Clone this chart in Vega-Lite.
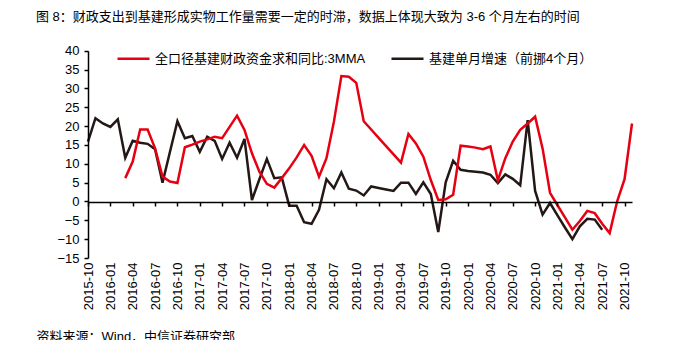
{
  "$schema": "https://vega.github.io/schema/vega-lite/v6.json",
  "width": 643,
  "height": 294,
  "autosize": {"type": "none"},
  "padding": {"left": 33, "top": 29, "right": 0, "bottom": 17},
  "background": "white",
  "config": {"view": {"stroke": null}, "font": "Liberation Sans, Noto Sans CJK SC"},
  "title": {
    "text": "图 8：财政支出到基建形成实物工作量需要一定的时滞，数据上体现大致为 3-6 个月左右的时间",
    "anchor": "start", "frame": "group", "orient": "top", "baseline": "bottom",
    "offset": 2, "dx": 3, "dy": 10, "fontSize": 13, "fontWeight": "normal", "color": "#000",
    "font": "Liberation Sans, Noto Sans CJK SC"
  },
  "data": {
    "values": [
      {"month": "2015-10", "series": "基建单月增速（前挪4个月）", "value": 15.9},
      {"month": "2015-11", "series": "基建单月增速（前挪4个月）", "value": 22.1},
      {"month": "2015-12", "series": "基建单月增速（前挪4个月）", "value": 20.7},
      {"month": "2016-01", "series": "基建单月增速（前挪4个月）", "value": 19.8},
      {"month": "2016-02", "series": "基建单月增速（前挪4个月）", "value": 21.8},
      {"month": "2016-03", "series": "基建单月增速（前挪4个月）", "value": 11.6},
      {"month": "2016-04", "series": "基建单月增速（前挪4个月）", "value": 16.1},
      {"month": "2016-05", "series": "基建单月增速（前挪4个月）", "value": 15.6},
      {"month": "2016-06", "series": "基建单月增速（前挪4个月）", "value": 15.3},
      {"month": "2016-07", "series": "基建单月增速（前挪4个月）", "value": 13.9},
      {"month": "2016-08", "series": "基建单月增速（前挪4个月）", "value": 5.0},
      {"month": "2016-09", "series": "基建单月增速（前挪4个月）", "value": 13.2},
      {"month": "2016-10", "series": "基建单月增速（前挪4个月）", "value": 21.3},
      {"month": "2016-11", "series": "基建单月增速（前挪4个月）", "value": 16.8},
      {"month": "2016-12", "series": "基建单月增速（前挪4个月）", "value": 17.4},
      {"month": "2017-01", "series": "基建单月增速（前挪4个月）", "value": 13.2},
      {"month": "2017-02", "series": "基建单月增速（前挪4个月）", "value": 17.2},
      {"month": "2017-03", "series": "基建单月增速（前挪4个月）", "value": 16.1},
      {"month": "2017-04", "series": "基建单月增速（前挪4个月）", "value": 11.3},
      {"month": "2017-05", "series": "基建单月增速（前挪4个月）", "value": 15.6},
      {"month": "2017-06", "series": "基建单月增速（前挪4个月）", "value": 11.6},
      {"month": "2017-07", "series": "基建单月增速（前挪4个月）", "value": 16.6},
      {"month": "2017-08", "series": "基建单月增速（前挪4个月）", "value": 0.4},
      {"month": "2017-09", "series": "基建单月增速（前挪4个月）", "value": 5.9},
      {"month": "2017-10", "series": "基建单月增速（前挪4个月）", "value": 11.3},
      {"month": "2017-11", "series": "基建单月增速（前挪4个月）", "value": 6.2},
      {"month": "2017-12", "series": "基建单月增速（前挪4个月）", "value": 6.4},
      {"month": "2018-01", "series": "基建单月增速（前挪4个月）", "value": -1.1},
      {"month": "2018-02", "series": "基建单月增速（前挪4个月）", "value": -1.1},
      {"month": "2018-03", "series": "基建单月增速（前挪4个月）", "value": -5.5},
      {"month": "2018-04", "series": "基建单月增速（前挪4个月）", "value": -5.9},
      {"month": "2018-05", "series": "基建单月增速（前挪4个月）", "value": -2.2},
      {"month": "2018-06", "series": "基建单月增速（前挪4个月）", "value": 5.9},
      {"month": "2018-07", "series": "基建单月增速（前挪4个月）", "value": 3.5},
      {"month": "2018-08", "series": "基建单月增速（前挪4个月）", "value": 7.7},
      {"month": "2018-09", "series": "基建单月增速（前挪4个月）", "value": 3.4},
      {"month": "2018-10", "series": "基建单月增速（前挪4个月）", "value": 2.9},
      {"month": "2018-11", "series": "基建单月增速（前挪4个月）", "value": 1.6},
      {"month": "2018-12", "series": "基建单月增速（前挪4个月）", "value": 4.0},
      {"month": "2019-01", "series": "基建单月增速（前挪4个月）", "value": 3.6},
      {"month": "2019-02", "series": "基建单月增速（前挪4个月）", "value": 3.2},
      {"month": "2019-03", "series": "基建单月增速（前挪4个月）", "value": 2.8},
      {"month": "2019-04", "series": "基建单月增速（前挪4个月）", "value": 5.0},
      {"month": "2019-05", "series": "基建单月增速（前挪4个月）", "value": 5.0},
      {"month": "2019-06", "series": "基建单月增速（前挪4个月）", "value": 2.0},
      {"month": "2019-07", "series": "基建单月增速（前挪4个月）", "value": 5.1},
      {"month": "2019-08", "series": "基建单月增速（前挪4个月）", "value": 2.0},
      {"month": "2019-09", "series": "基建单月增速（前挪4个月）", "value": -8.1},
      {"month": "2019-10", "series": "基建单月增速（前挪4个月）", "value": 5.1},
      {"month": "2019-11", "series": "基建单月增速（前挪4个月）", "value": 10.8},
      {"month": "2019-12", "series": "基建单月增速（前挪4个月）", "value": 8.4},
      {"month": "2020-01", "series": "基建单月增速（前挪4个月）", "value": 8.1},
      {"month": "2020-02", "series": "基建单月增速（前挪4个月）", "value": 7.9},
      {"month": "2020-03", "series": "基建单月增速（前挪4个月）", "value": 7.7},
      {"month": "2020-04", "series": "基建单月增速（前挪4个月）", "value": 7.1},
      {"month": "2020-05", "series": "基建单月增速（前挪4个月）", "value": 4.9},
      {"month": "2020-06", "series": "基建单月增速（前挪4个月）", "value": 7.2},
      {"month": "2020-07", "series": "基建单月增速（前挪4个月）", "value": 6.0},
      {"month": "2020-08", "series": "基建单月增速（前挪4个月）", "value": 4.3},
      {"month": "2020-09", "series": "基建单月增速（前挪4个月）", "value": 21.6},
      {"month": "2020-10", "series": "基建单月增速（前挪4个月）", "value": 2.8},
      {"month": "2020-11", "series": "基建单月增速（前挪4个月）", "value": -3.5},
      {"month": "2020-12", "series": "基建单月增速（前挪4个月）", "value": -0.4},
      {"month": "2021-01", "series": "基建单月增速（前挪4个月）", "value": -3.7},
      {"month": "2021-02", "series": "基建单月增速（前挪4个月）", "value": -6.9},
      {"month": "2021-03", "series": "基建单月增速（前挪4个月）", "value": -10.0},
      {"month": "2021-04", "series": "基建单月增速（前挪4个月）", "value": -6.6},
      {"month": "2021-05", "series": "基建单月增速（前挪4个月）", "value": -4.6},
      {"month": "2021-06", "series": "基建单月增速（前挪4个月）", "value": -4.8},
      {"month": "2021-07", "series": "基建单月增速（前挪4个月）", "value": -7.5},
      {"month": "2016-03", "series": "全口径基建财政资金求和同比:3MMA", "value": 6.2},
      {"month": "2016-04", "series": "全口径基建财政资金求和同比:3MMA", "value": 10.6},
      {"month": "2016-05", "series": "全口径基建财政资金求和同比:3MMA", "value": 19.1},
      {"month": "2016-06", "series": "全口径基建财政资金求和同比:3MMA", "value": 19.1},
      {"month": "2016-07", "series": "全口径基建财政资金求和同比:3MMA", "value": 14.1},
      {"month": "2016-08", "series": "全口径基建财政资金求和同比:3MMA", "value": 6.6},
      {"month": "2016-09", "series": "全口径基建财政资金求和同比:3MMA", "value": 5.3},
      {"month": "2016-10", "series": "全口径基建财政资金求和同比:3MMA", "value": 4.9},
      {"month": "2016-11", "series": "全口径基建财政资金求和同比:3MMA", "value": 14.4},
      {"month": "2016-12", "series": "全口径基建财政资金求和同比:3MMA", "value": 15.1},
      {"month": "2017-01", "series": "全口径基建财政资金求和同比:3MMA", "value": 15.9},
      {"month": "2017-02", "series": "全口径基建财政资金求和同比:3MMA", "value": 16.5},
      {"month": "2017-03", "series": "全口径基建财政资金求和同比:3MMA", "value": 17.2},
      {"month": "2017-04", "series": "全口径基建财政资金求和同比:3MMA", "value": 16.8},
      {"month": "2017-05", "series": "全口径基建财政资金求和同比:3MMA", "value": 19.8},
      {"month": "2017-06", "series": "全口径基建财政资金求和同比:3MMA", "value": 22.8},
      {"month": "2017-07", "series": "全口径基建财政资金求和同比:3MMA", "value": 19.0},
      {"month": "2017-08", "series": "全口径基建财政资金求和同比:3MMA", "value": 12.8},
      {"month": "2017-09", "series": "全口径基建财政资金求和同比:3MMA", "value": 7.9},
      {"month": "2017-10", "series": "全口径基建财政资金求和同比:3MMA", "value": 4.7},
      {"month": "2017-11", "series": "全口径基建财政资金求和同比:3MMA", "value": 3.7},
      {"month": "2017-12", "series": "全口径基建财政资金求和同比:3MMA", "value": 6.2},
      {"month": "2018-01", "series": "全口径基建财政资金求和同比:3MMA", "value": 8.8},
      {"month": "2018-02", "series": "全口径基建财政资金求和同比:3MMA", "value": 11.7},
      {"month": "2018-03", "series": "全口径基建财政资金求和同比:3MMA", "value": 15.0},
      {"month": "2018-04", "series": "全口径基建财政资金求和同比:3MMA", "value": 12.1},
      {"month": "2018-05", "series": "全口径基建财政资金求和同比:3MMA", "value": 6.6},
      {"month": "2018-06", "series": "全口径基建财政资金求和同比:3MMA", "value": 11.5},
      {"month": "2018-07", "series": "全口径基建财政资金求和同比:3MMA", "value": 21.2},
      {"month": "2018-08", "series": "全口径基建财政资金求和同比:3MMA", "value": 33.3},
      {"month": "2018-09", "series": "全口径基建财政资金求和同比:3MMA", "value": 33.1},
      {"month": "2018-10", "series": "全口径基建财政资金求和同比:3MMA", "value": 31.5},
      {"month": "2018-11", "series": "全口径基建财政资金求和同比:3MMA", "value": 21.3},
      {"month": "2018-12", "series": "全口径基建财政资金求和同比:3MMA", "value": 19.1},
      {"month": "2019-01", "series": "全口径基建财政资金求和同比:3MMA", "value": 16.9},
      {"month": "2019-02", "series": "全口径基建财政资金求和同比:3MMA", "value": 14.7},
      {"month": "2019-03", "series": "全口径基建财政资金求和同比:3MMA", "value": 12.5},
      {"month": "2019-04", "series": "全口径基建财政资金求和同比:3MMA", "value": 10.3},
      {"month": "2019-05", "series": "全口径基建财政资金求和同比:3MMA", "value": 17.9},
      {"month": "2019-06", "series": "全口径基建财政资金求和同比:3MMA", "value": 15.4},
      {"month": "2019-07", "series": "全口径基建财政资金求和同比:3MMA", "value": 11.9},
      {"month": "2019-08", "series": "全口径基建财政资金求和同比:3MMA", "value": 5.7},
      {"month": "2019-09", "series": "全口径基建财政资金求和同比:3MMA", "value": 0.4},
      {"month": "2019-10", "series": "全口径基建财政资金求和同比:3MMA", "value": 0.6},
      {"month": "2019-11", "series": "全口径基建财政资金求和同比:3MMA", "value": 1.8},
      {"month": "2019-12", "series": "全口径基建财政资金求和同比:3MMA", "value": 14.8},
      {"month": "2020-01", "series": "全口径基建财政资金求和同比:3MMA", "value": 14.6},
      {"month": "2020-02", "series": "全口径基建财政资金求和同比:3MMA", "value": 14.3},
      {"month": "2020-03", "series": "全口径基建财政资金求和同比:3MMA", "value": 13.9},
      {"month": "2020-04", "series": "全口径基建财政资金求和同比:3MMA", "value": 14.6},
      {"month": "2020-05", "series": "全口径基建财政资金求和同比:3MMA", "value": 5.6},
      {"month": "2020-06", "series": "全口径基建财政资金求和同比:3MMA", "value": 11.5},
      {"month": "2020-07", "series": "全口径基建财政资金求和同比:3MMA", "value": 15.9},
      {"month": "2020-08", "series": "全口径基建财政资金求和同比:3MMA", "value": 19.0},
      {"month": "2020-09", "series": "全口径基建财政资金求和同比:3MMA", "value": 20.7},
      {"month": "2020-10", "series": "全口径基建财政资金求和同比:3MMA", "value": 22.5},
      {"month": "2020-11", "series": "全口径基建财政资金求和同比:3MMA", "value": 14.1},
      {"month": "2020-12", "series": "全口径基建财政资金求和同比:3MMA", "value": 2.3},
      {"month": "2021-01", "series": "全口径基建财政资金求和同比:3MMA", "value": -1.0},
      {"month": "2021-02", "series": "全口径基建财政资金求和同比:3MMA", "value": -4.2},
      {"month": "2021-03", "series": "全口径基建财政资金求和同比:3MMA", "value": -7.5},
      {"month": "2021-04", "series": "全口径基建财政资金求和同比:3MMA", "value": -5.2},
      {"month": "2021-05", "series": "全口径基建财政资金求和同比:3MMA", "value": -2.5},
      {"month": "2021-06", "series": "全口径基建财政资金求和同比:3MMA", "value": -3.1},
      {"month": "2021-07", "series": "全口径基建财政资金求和同比:3MMA", "value": -5.9},
      {"month": "2021-08", "series": "全口径基建财政资金求和同比:3MMA", "value": -8.4},
      {"month": "2021-09", "series": "全口径基建财政资金求和同比:3MMA", "value": 0.0},
      {"month": "2021-10", "series": "全口径基建财政资金求和同比:3MMA", "value": 5.9},
      {"month": "2021-11", "series": "全口径基建财政资金求和同比:3MMA", "value": 20.7}
    ]
  },
  "mark": {"type": "line", "strokeWidth": 2.5},
  "encoding": {
    "x": {
      "field": "month", "type": "ordinal",
      "scale": {"type": "point", "padding": 0, "range": [55, 599]},
      "axis": {
        "values": ["2015-10","2016-01","2016-04","2016-07","2016-10","2017-01","2017-04","2017-07","2017-10","2018-01","2018-04","2018-07","2018-10","2019-01","2019-04","2019-07","2019-10","2020-01","2020-04","2020-07","2020-10","2021-01","2021-04","2021-07","2021-10"],
        "offset": -121, "tickSize": 4, "tickWidth": 1.5, "tickColor": "#000",
        "domainColor": "#000", "domainWidth": 1.5, "zindex": 1,
        "labelAngle": -90, "labelPadding": 56, "labelFontSize": 13, "labelColor": "#000",
        "labelFont": "Liberation Sans", "labelOverlap": false, "grid": false,
        "title": "资料来源：Wind，中信证券研究部",
        "titleFont": "Liberation Sans, Noto Sans CJK SC", "titleFontSize": 13, "titleFontWeight": "normal",
        "titleColor": "#000", "titleAnchor": "start", "titleAlign": "left",
        "titleX": 3, "titleY": 128, "titleBaseline": "top"
      }
    },
    "y": {
      "field": "value", "type": "quantitative",
      "scale": {"domain": [-15, 40], "range": [229, 21.8], "nice": false, "zero": false},
      "axis": {
        "values": [-15, -10, -5, 0, 5, 10, 15, 20, 25, 30, 35, 40],
        "offset": -55, "tickSize": 4, "tickWidth": 1.5, "tickColor": "#000",
        "domainColor": "#000", "domainWidth": 1.5, "zindex": 1,
        "labelFontSize": 13, "labelPadding": 5, "labelColor": "#000", "labelOverlap": false,
        "labelFont": "Liberation Sans", "grid": false, "title": null
      }
    },
    "color": {
      "field": "series", "type": "nominal",
      "scale": {
        "domain": ["全口径基建财政资金求和同比:3MMA", "基建单月增速（前挪4个月）"],
        "range": ["#e60012", "#231815"]
      },
      "legend": {
        "orient": "none", "legendX": 83, "legendY": 12, "direction": "horizontal",
        "title": null, "symbolType": "stroke", "symbolSize": 1024, "symbolStrokeWidth": 2.5,
        "labelFontSize": 13, "labelColor": "#000", "labelOffset": 4, "columnPadding": 20,
        "labelLimit": 400, "padding": 0,
        "labelFont": "Liberation Sans, Noto Sans CJK SC"
      }
    }
  }
}
